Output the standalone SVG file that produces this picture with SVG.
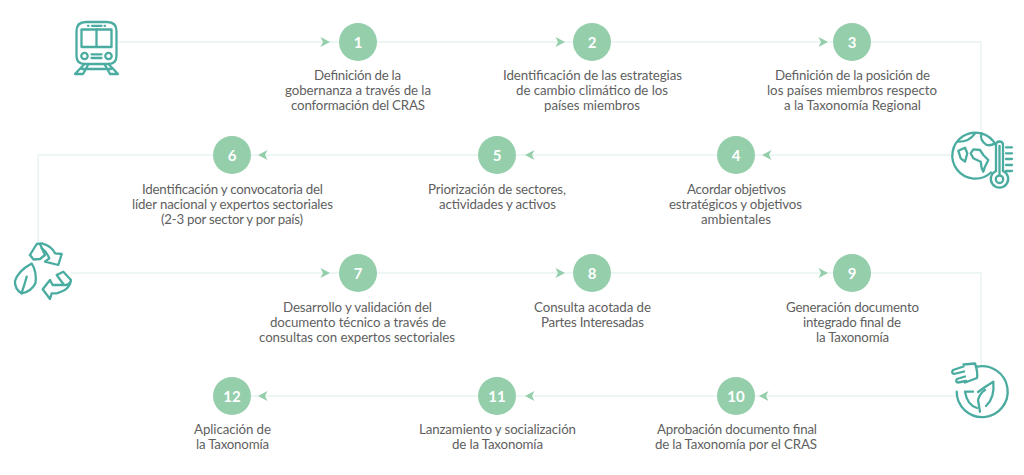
<svg xmlns="http://www.w3.org/2000/svg" width="1024" height="475" viewBox="0 0 1024 475">
<style>
.bg{fill:#fff}
.c{fill:none;stroke:#e6f3ee;stroke-width:1.3}
.h{fill:#94ceab}
.n{fill:#94ceab}
.num{font:700 15px "Lato","Liberation Sans",sans-serif;fill:#fff;text-anchor:middle}
.t{font:400 13.3px "Lato","Open Sans","Liberation Sans",sans-serif;fill:#5f5f5f}
.i{fill:none;stroke:#4aaca0;stroke-width:2.3;stroke-linecap:round;stroke-linejoin:round}
</style>
<defs>
<path id="ar" class="h" d="M0 0L-9.500 -5L-7 0L-9.500 5Z"/>
<path id="al" class="h" d="M0 0L9.500 -5L7 0L9.500 5Z"/>
</defs>
<rect class="bg" width="1024" height="475"/>
<g id="connectors">
<path class="c" d="M118 42H981V130"/>
<path class="c" d="M953 155H38V245"/>
<path class="c" d="M71 273H981V366"/>
<path class="c" d="M957 396H232"/>
<use href="#ar" x="330" y="42"/><use href="#ar" x="565" y="42"/><use href="#ar" x="828" y="42"/>
<use href="#al" x="762" y="155"/><use href="#al" x="525" y="155"/><use href="#al" x="258" y="155"/>
<use href="#ar" x="330" y="273"/><use href="#ar" x="565" y="273"/><use href="#ar" x="828" y="273"/>
<use href="#al" x="759" y="396"/><use href="#al" x="525" y="396"/><use href="#al" x="258" y="396"/>
</g>
<g id="icon-train" class="i">
<path d="M76.500 31Q76.500 22 86 22H107Q116.500 22 116.500 31V56Q116.500 64 108 64H85Q76.500 64 76.500 56Z"/>
<rect x="81.500" y="29.500" width="30" height="17.500"/>
<path d="M96.500 29.500V47M88 25.800H88.500M92 25.800H101.500M104.500 25.800H105M91.500 54.300H101.500M91.500 58H101.500"/>
<circle cx="84.500" cy="56" r="3.200"/><circle cx="108.500" cy="56" r="3.200"/>
<path d="M84 64.500L75 74H83L88 65M109 64.500L118 74H110L105 65M82 69H111"/>
</g>
<g id="icon-globe" class="i">
<path d="M995.700 145A23 23 0 1 0 991 172.500"/>
<path d="M958.300 141.700Q969 142 975 133.300M981.700 133.300Q979 140 986.700 145Q991 146 995 143.300"/>
<path d="M958.300 150.700L965 147.700L967.300 153.300L965 161.700L960.700 158.300Z"/>
<path d="M970.700 153.300L973.300 149.300L980 150L983.300 155L988.300 160L985 166.700L983.300 171.700L981.700 168.300L980.700 161.700L973.300 158.300Z"/>
<path d="M996 171V145Q996 141.500 999.500 141.500Q1003 141.500 1003 145V171"/>
<path d="M996 171A8.700 8.700 0 1 0 1003 171"/>
<circle cx="999.500" cy="179.300" r="3.700"/>
<path d="M999.500 175V146M1006 147.300H1012M1006 153.300H1012M1006 159H1012M1006 165H1012M1006 171H1012"/>
</g>
<g id="icon-recycle" class="i">
<path d="M30 255L36.700 244L41.700 243.300Q52 246 55 253.300L61.700 254L58.300 265L45 261.700L49.300 258.300Q47 252 41.700 248.300"/>
<path d="M40 244L45 255L40 259L33.500 259.500L30 255"/>
<path d="M31.700 263.500Q18 271 15 281Q14.500 289 21.700 293.500Q32 291 35.500 283Q37 272 31.700 263.500Z"/>
<path d="M26.700 276.700Q24 286 21.700 292.700"/>
<path d="M56.700 275L63.300 271.700L71 280Q70 290 56.700 293.300H51.700L50 299L42.700 289.300L50 280L52.700 285H66Q70 284 71 280M63.300 284L56.700 275"/>
</g>
<g id="icon-plug" class="i">
<path d="M976.700 366.700A25.500 25.500 0 1 1 956.700 391.700"/>
<path d="M963.500 364.500L975 363.500Q978 372 977 378L965 382.500"/>
<path d="M963.500 366.500L953 370Q951 373 954 374L964 371.500M965 376.500L957 379Q955 382 958 382.500L966 381"/>
<path d="M978 392Q986 386 993.300 381.700Q995 398 986 406"/>
<path d="M980 411.700L978 400Q980 393 985 390"/>
<path d="M965 391.700H973M965 391.700Q967 405 977 408"/>
</g>
<g id="node-1"><circle class="n" cx="358" cy="42" r="19"/><text class="num" x="358" y="47.500">1</text>
<text class="t" x="314" y="80" textLength="87">Definición de la</text><text class="t" x="285" y="95" textLength="146">gobernanza a través de la</text><text class="t" x="291" y="110" textLength="134">conformación del CRAS</text></g>
<g id="node-2"><circle class="n" cx="592" cy="42" r="19"/><text class="num" x="592" y="47.500">2</text>
<text class="t" x="503" y="80" textLength="179">Identificación de las estrategias</text><text class="t" x="516" y="95" textLength="152">de cambio climático de los</text><text class="t" x="544" y="110" textLength="96">países miembros</text></g>
<g id="node-3"><circle class="n" cx="852" cy="42" r="19"/><text class="num" x="852" y="47.500">3</text>
<text class="t" x="775" y="80" textLength="155">Definición de la posición de</text><text class="t" x="767" y="95" textLength="170">los países miembros respecto</text><text class="t" x="784" y="110" textLength="137">a la Taxonomía Regional</text></g>
<g id="node-4"><circle class="n" cx="736" cy="155" r="19"/><text class="num" x="736" y="160.500">4</text>
<text class="t" x="687" y="194" textLength="99">Acordar objetivos</text><text class="t" x="669" y="209" textLength="133">estratégicos y objetivos</text><text class="t" x="701" y="224" textLength="70">ambientales</text></g>
<g id="node-5"><circle class="n" cx="497" cy="155" r="19"/><text class="num" x="497" y="160.500">5</text>
<text class="t" x="428" y="194" textLength="138">Priorización de sectores,</text><text class="t" x="439" y="209" textLength="117">actividades y activos</text></g>
<g id="node-6"><circle class="n" cx="232" cy="155" r="19"/><text class="num" x="232" y="160.500">6</text>
<text class="t" x="142" y="194" textLength="181">Identificación y convocatoria del</text><text class="t" x="132" y="209" textLength="201">líder nacional y expertos sectoriales</text><text class="t" x="161" y="224" textLength="142">(2-3 por sector y por país)</text></g>
<g id="node-7"><circle class="n" cx="358" cy="273" r="19"/><text class="num" x="358" y="278.500">7</text>
<text class="t" x="283" y="312" textLength="149">Desarrollo y validación del</text><text class="t" x="270" y="327" textLength="176">documento técnico a través de</text><text class="t" x="259" y="342" textLength="196">consultas con expertos sectoriales</text></g>
<g id="node-8"><circle class="n" cx="592" cy="273" r="19"/><text class="num" x="592" y="278.500">8</text>
<text class="t" x="534" y="312" textLength="117">Consulta acotada de</text><text class="t" x="541" y="327" textLength="103">Partes Interesadas</text></g>
<g id="node-9"><circle class="n" cx="852" cy="273" r="19"/><text class="num" x="852" y="278.500">9</text>
<text class="t" x="786" y="312" textLength="133">Generación documento</text><text class="t" x="803" y="327" textLength="98">integrado final de</text><text class="t" x="816" y="342" textLength="73">la Taxonomía</text></g>
<g id="node-10"><circle class="n" cx="736" cy="396" r="19"/><text class="num" x="736" y="401.500">10</text>
<text class="t" x="657" y="434" textLength="160">Aprobación documento final</text><text class="t" x="655" y="449" textLength="162">de la Taxonomía por el CRAS</text></g>
<g id="node-11"><circle class="n" cx="497" cy="396" r="19"/><text class="num" x="497" y="401.500">11</text>
<text class="t" x="419" y="434" textLength="157">Lanzamiento y socialización</text><text class="t" x="452" y="449" textLength="91">de la Taxonomía</text></g>
<g id="node-12"><circle class="n" cx="232" cy="396" r="19"/><text class="num" x="232" y="401.500">12</text>
<text class="t" x="194" y="434" textLength="77">Aplicación de</text><text class="t" x="196" y="449" textLength="73">la Taxonomía</text></g>
</svg>
